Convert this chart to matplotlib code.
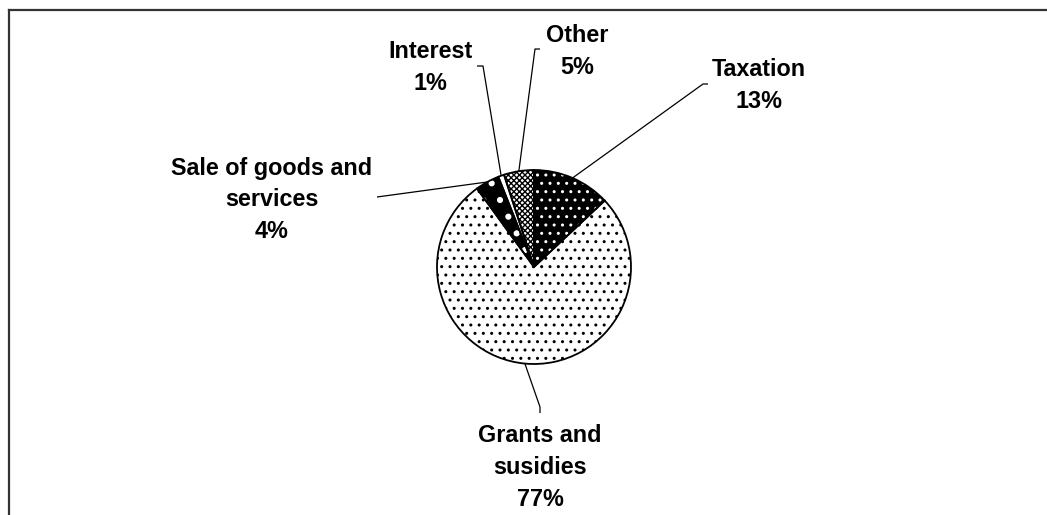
import matplotlib
matplotlib.use("Agg")
import matplotlib.pyplot as plt
import numpy as np

# data (clockwise from 12 o'clock reads: Taxation, Grants, Sale, Interest, Other)
labels = ["Other", "Interest", "Sale of goods and\nservices", "Grants and\nsusidies", "Taxation"]
shares = [5, 1, 4, 77, 13]

# styling per slice: face colour, hatch, hatch colour, hatch width
faces = ["white", "white", "black", "white", "black"]
hatches = ["xxxxxx", "", ".", "..", ".."]
hatch_cols = ["black", "black", "white", "black", "white"]
hatch_lw = [1.0, 1.0, 2.0, 1.0, 1.0]

plt.rcParams["font.family"] = ["Liberation Sans", "DejaVu Sans"]
plt.rcParams["hatch.linewidth"] = 1.0

W, H, DPI = 1047, 515, 100
fig = plt.figure(figsize=(W / DPI, H / DPI), dpi=DPI)
ax = fig.add_axes([0, 0, 1, 1])

# pie centre and radius in pixels
cx, cy, R = 534, 267, 97


def px(x, y):
    # pixel position (from top-left) -> data coords (pie radius = 1)
    return (x - cx) / R, (cy - y) / R


# filled + hatched wedges (edge colour drives hatch colour)
wedges, _ = ax.pie(shares, startangle=90, counterclock=True, radius=1,
                   center=(0, 0), wedgeprops=dict(linewidth=0))
for w, fc, h, hc, hl in zip(wedges, faces, hatches, hatch_cols, hatch_lw):
    w.set_facecolor(fc)
    w.set_hatch(h)
    w.set_edgecolor(hc)
    w.set_linewidth(0)
    if hasattr(w, "set_hatch_linewidth"):
        w.set_hatch_linewidth(hl)

# outlines on top
outl, _ = ax.pie(shares, startangle=90, counterclock=True, radius=1,
                 center=(0, 0),
                 wedgeprops=dict(fill=False, edgecolor="black", linewidth=1.3))

ax.set_aspect("auto")
ax.set_xlim(px(0, 0)[0], px(W, 0)[0])
ax.set_ylim(px(0, H)[1], px(0, 0)[1])
ax.axis("off")

# label layout (pixel centres) and leader elbows
text_pos = [(577, 51), (430, 67), (272, 200), (540, 467), (759, 85)]
leader_end = [(540, 49), (477, 66), None, (540, 413), (708, 84)]
leader_elbow = [(535, 49), (483, 66), (377, 197), (540, 407), (703, 84)]

for w, lab, s, tp, le, lb in zip(wedges, labels, shares, text_pos,
                                 leader_end, leader_elbow):
    mid = np.deg2rad((w.theta1 + w.theta2) / 2)
    edge = (np.cos(mid), np.sin(mid))
    ex, ey = px(*lb)
    xs, ys = [edge[0], ex], [edge[1], ey]
    if le is not None:
        lx, ly = px(*le)
        xs.append(lx)
        ys.append(ly)
    ax.plot(xs, ys, color="black", lw=0.9, solid_capstyle="butt")
    tx, ty = px(*tp)
    ax.text(tx, ty, f"{lab}\n{s}%", ha="center", va="center",
            fontsize=16.8, fontweight="bold", linespacing=1.5)

# partial frame (left and top edges)
fig.add_artist(plt.Line2D([8.5 / W, 8.5 / W], [0, 1 - 10 / H],
                          color="#333333", lw=1.6))
fig.add_artist(plt.Line2D([8.5 / W, 1], [1 - 10 / H, 1 - 10 / H],
                          color="#333333", lw=1.6))

fig.savefig("out.png", dpi=DPI)
